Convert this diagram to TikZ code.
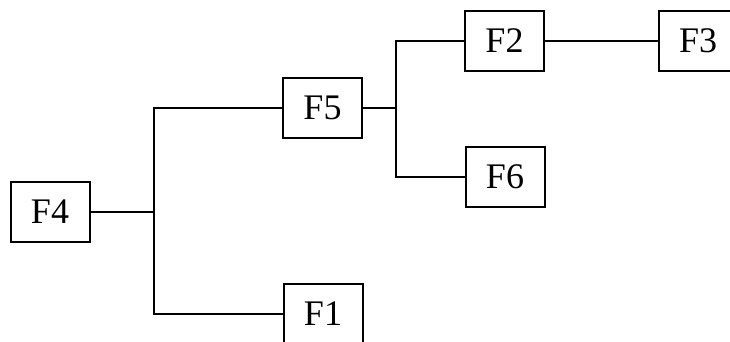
\documentclass[tikz,border=0pt]{standalone}
\usepackage{fontspec}
\setmainfont{Liberation Serif}
\begin{document}
\begin{tikzpicture}[x=1pt,y=-1pt,
  fbox/.style={draw,line width=2pt,minimum width=79pt,minimum height=60pt,inner sep=0pt,
    font=\fontsize{36}{36}\selectfont},
  wire/.style={line width=2pt}]
\useasboundingbox (0,0) rectangle (730,341);
\clip (0,0) rectangle (730,341);
\node[fbox] (F4) at (50,212) {F4};
\node[fbox] (F5) at (322.5,108) {F5};
\node[fbox] (F1) at (323,314) {F1};
\node[fbox] (F2) at (504.5,41) {F2};
\node[fbox] (F6) at (505,176.5) {F6};
\node[fbox] (F3) at (698,41) {F3};
\coordinate (j1) at (154,212);
\coordinate (j2) at (396,108);
\draw[wire] (F4.east) -- (j1);
\draw[wire] (F5.west) -| (j1) |- (F1.west);
\draw[wire] (F5.east) -- (j2);
\draw[wire] (F2.west) -| (j2) |- (F6.west);
\draw[wire] (F2.east) -- (F3.west);
\end{tikzpicture}
\end{document}
